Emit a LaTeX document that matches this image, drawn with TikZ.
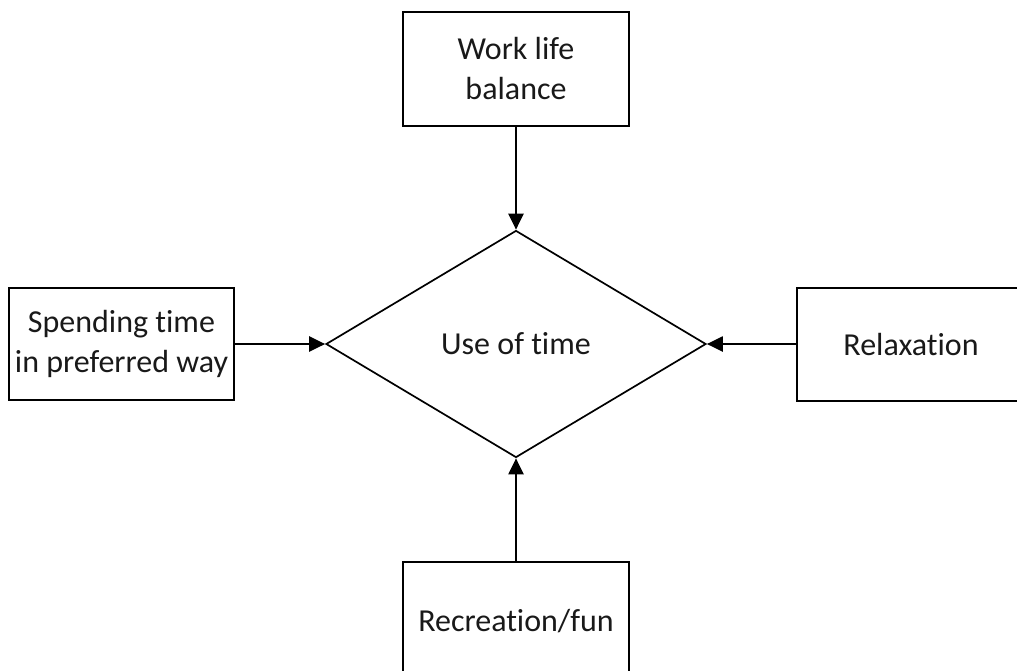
\documentclass[tikz,border=0pt]{standalone}
\usepackage{fontspec}
\setmainfont{Carlito}[Ligatures={NoCommon}]
\usetikzlibrary{arrows.meta,shapes.geometric}
\begin{document}
\begin{tikzpicture}[x=1pt,y=-1pt,
  every node/.style={font=\fontsize{32}{40}\selectfont, text=black!90},
  box/.style={draw, line width=2pt, rectangle, inner sep=0pt, align=center},
  decision/.style={draw, line width=1.7pt, diamond, inner sep=0pt, minimum width=380pt, minimum height=227pt},
  link/.style={line width=2.2pt, -{Triangle[length=16pt,width=15pt]}}]
\useasboundingbox (0,0) rectangle (1017,670);
\clip (0,0) rectangle (1017,670);
\node[decision] (use) at (516,344) {Use of time};
\node[box, minimum width=226pt, minimum height=114pt] (work) at (516,69) {Work life\\balance};
\node[box, minimum width=225pt, minimum height=112pt] (spend) at (121.5,344) {Spending time\\in preferred way};
\node[box, minimum width=228pt, minimum height=113pt] (relax) at (911,344) {Relaxation};
\node[box, minimum width=226pt, minimum height=118pt] (fun) at (516,621) {Recreation/fun};
\draw[link] (work.south) -- (use.north);
\draw[link] (spend.east) -- (use.west);
\draw[link] (relax.west) -- (use.east);
\draw[link] (fun.north) -- (use.south);
\end{tikzpicture}
\end{document}
